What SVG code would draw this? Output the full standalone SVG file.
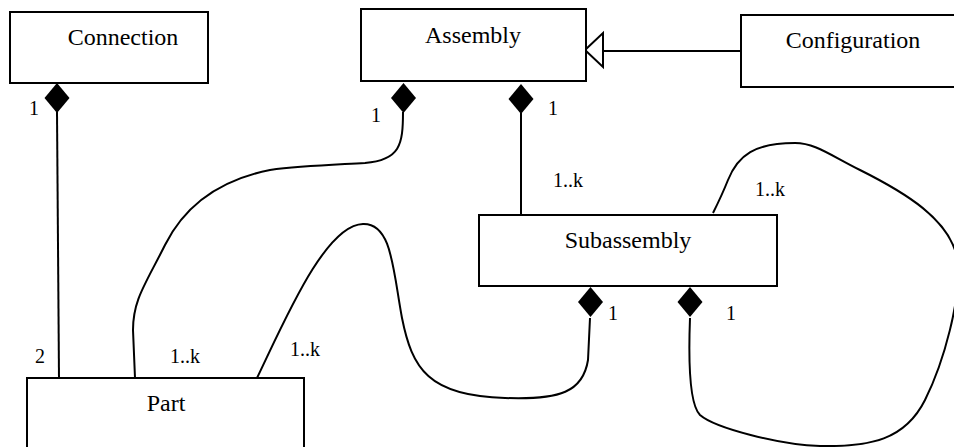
<svg xmlns="http://www.w3.org/2000/svg" width="954" height="447" viewBox="0 0 954 447">
  <style>
    .box { fill: #fff; stroke: #000; stroke-width: 2; }
    .name { font-size: 24px; fill: #000; text-anchor: middle; }
    .mult { font-size: 20px; fill: #000; }
    .link { fill: none; stroke: #000; stroke-width: 2; }
    .dia { fill: #000; stroke: none; }
  </style>
  <defs>
    <!-- filled composition diamond, top point at origin -->
    <path id="diamond" class="dia" d="M0,0 L12.5,15 L0,30 L-12.5,15 Z"/>
  </defs>
  <rect width="954" height="447" fill="#fff"/>

  <!-- connectors -->
  <g id="connectors">
    <!-- Connection – Part -->
    <path class="link" d="M57,112 L59,378"/>
    <use href="#diamond" x="57" y="83"/>
    <!-- Assembly – Part -->
    <path class="link" d="M403,112 C403,145 400,160 365,163 C330,165 300,166 270,170 C220,180 185,205 165,245 C145,285 133,300 133,330 L135,378"/>
    <use href="#diamond" x="403.5" y="83"/>
    <!-- Assembly – Subassembly -->
    <path class="link" d="M521,113 L521,216"/>
    <use href="#diamond" x="521" y="84"/>
    <!-- Configuration generalises Assembly -->
    <path class="link" d="M603,51 L741,51"/>
    <polygon points="585,50 603,33 603,67" fill="#fff" stroke="#000" stroke-width="2"/>
    <!-- Subassembly – Part -->
    <path class="link" d="M257,378 C285,320 325,225 363,224 C392,223 393,270 402,318 C412,368 428,396 505,398 C560,400 583,392 588,360 L590,318"/>
    <use href="#diamond" x="590.5" y="287"/>
    <!-- Subassembly self-reference -->
    <path class="link" d="M690,318 C688,370 690,405 700,415 C715,428 780,445 820,446 C870,447 905,440 925,400 C945,360 960,300 958,265 C955,220 900,190 860,170 C830,155 815,143 795,143 C755,143 738,155 728,180 C722,195 717,205 713,213"/>
    <use href="#diamond" x="690" y="287"/>
  </g>

  <!-- multiplicities -->
  <g id="labels" font-family="'Liberation Serif', 'DejaVu Serif', serif">
    <text class="mult" x="29" y="115">1</text>
    <text class="mult" x="371" y="122">1</text>
    <text class="mult" x="548" y="115">1</text>
    <text class="mult" x="553" y="187">1..k</text>
    <text class="mult" x="755" y="196">1..k</text>
    <text class="mult" x="608" y="320">1</text>
    <text class="mult" x="726" y="320">1</text>
    <text class="mult" x="35" y="363">2</text>
    <text class="mult" x="170" y="363">1..k</text>
    <text class="mult" x="290" y="356">1..k</text>
  </g>

  <!-- classes -->
  <g id="connection" font-family="'Liberation Serif', 'DejaVu Serif', serif">
    <rect class="box" x="10" y="12" width="198" height="71"/>
    <text class="name" x="123" y="45">Connection</text>
  </g>
  <g id="assembly" font-family="'Liberation Serif', 'DejaVu Serif', serif">
    <rect class="box" x="361" y="9" width="225" height="72"/>
    <text class="name" x="473" y="43">Assembly</text>
  </g>
  <g id="configuration" font-family="'Liberation Serif', 'DejaVu Serif', serif">
    <rect class="box" x="741" y="15" width="230" height="72"/>
    <text class="name" x="853" y="48">Configuration</text>
  </g>
  <g id="subassembly" font-family="'Liberation Serif', 'DejaVu Serif', serif">
    <rect class="box" x="479" y="215" width="298" height="71"/>
    <text class="name" x="628" y="248">Subassembly</text>
  </g>
  <g id="part" font-family="'Liberation Serif', 'DejaVu Serif', serif">
    <rect class="box" x="27" y="378" width="277" height="90"/>
    <text class="name" x="166" y="411">Part</text>
  </g>
</svg>
